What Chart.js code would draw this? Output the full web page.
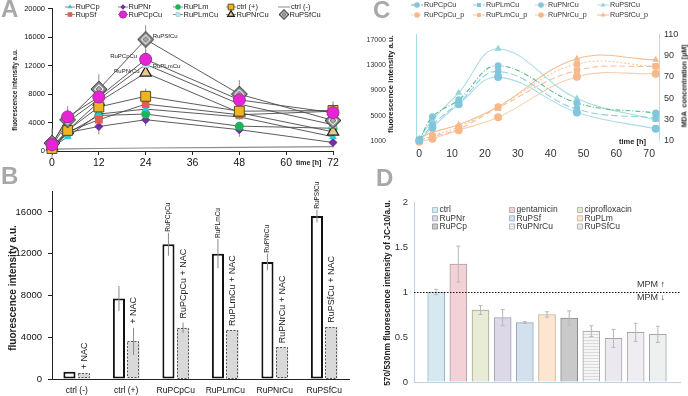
<!DOCTYPE html>
<html>
<head>
<meta charset="utf-8">
<title>Fluorescence, MDA and JC-10 panels</title>
<script src="https://cdn.jsdelivr.net/npm/chart.js@4.4.1/dist/chart.umd.min.js"></script>
<style>
  body { margin: 0; background: #fff; }
  #fig { position: relative; width: 688px; height: 396px; overflow: hidden;
         font-family: "Liberation Sans", Arial, sans-serif; color: #222; }
  #fig canvas { position: absolute; }
  .letter { position: absolute; font-size: 24px; font-weight: bold; color: #a8a8a8; line-height: 1; }
  .note { position: absolute; white-space: nowrap; line-height: 1; transform: translateY(-50%); }
  .vtitle { position: absolute; white-space: nowrap; font-weight: bold; line-height: 1;
            transform: translate(-50%, -50%) rotate(-90deg); }
</style>
</head>
<body>
<div id="fig">
  <canvas id="chartD" width="344" height="206" style="left:344px; top:190px"></canvas>
  <canvas id="chartC" width="344" height="175" style="left:344px; top:0"></canvas>
  <canvas id="chartB" width="362" height="221" style="left:0; top:175px"></canvas>
  <canvas id="chartA" width="344" height="175" style="left:0; top:0"></canvas>

  <div class="letter" style="left:1px; top:-3px">A</div>
  <div class="letter" style="left:1px; top:164px">B</div>
  <div class="letter" style="left:373px; top:-2px">C</div>
  <div class="letter" style="left:376px; top:166px">D</div>

  <div class="vtitle" style="left:15px; top:90px; font-size:6.5px">fluorescence intensity a.u.</div>
  <div class="vtitle" style="left:13px; top:288px; font-size:10px">fluorescence intensity a.u.</div>
  <div class="vtitle" style="left:391px; top:84px; font-size:7.8px">fluorescence intensity a.u.</div>
  <div class="vtitle" style="left:684px; top:86px; font-size:7px">MDA&nbsp; concentration [µM]</div>
  <div class="vtitle" style="left:387px; top:293px; font-size:8.4px">570/530nm fluorescence intensity of JC-10/a.u.</div>

  <div class="note" style="left:296px; top:162px; font-size:7px; font-weight:bold">time [h]</div>
  <div class="note" style="left:619px; top:142px; font-size:7.5px; font-weight:bold">time [h]</div>
  <div class="note" style="left:637px; top:284px; font-size:9px; color:#333">MPM ↑</div>
  <div class="note" style="left:637px; top:297px; font-size:9px; color:#333">MPM ↓</div>
</div>
<script>
// ---------- panel A: fluorescence intensity vs time ----------
const timeA = [0, 4, 12, 24, 48, 72];
const ticksAx = [0, 12, 24, 36, 48, 60, 72];
const ticksAy = [0, 4000, 8000, 12000, 16000, 20000];

const aRuPCp   = [500, 2000, 5200, 5900, 4800, 2000];
const aRuPNr   = [300, 2600, 3450, 4400, 3000, 1200];
const aRuPLm   = [400, 2500, 5000, 5200, 3500, 3200];
const aCtrlPos = [350, 2900, 6200, 7700, 5600, 5700];
const aCtrlNeg = [250, 290, 350, 420, 520, 620];
const aRupSf   = [400, 2700, 4400, 6600, 5100, 5600];
const aRuPCpCu = [900, 4800, 7600, 12900, 7200, 5400];
const aRuPLmCu = [700, 4100, 7300, 12200, 6600, 3700];
const aRuPNrCu = [600, 2900, 6900, 11000, 5400, 2700];
const aRuPSfCu = [1100, 4400, 8700, 15700, 8000, 4300];

const aErrRuPNr   = [300, 600, 1100, 900, 1000, 700];
const aErrCtrlPos = [200, 800, 900, 1100, 800, 900];
const aErrRupSf   = [200, 600, 800, 900, 700, 1400];
const aErrRuPCpCu = [600, 1500, 1200, 1300, 1000, 800];
const aErrRuPSfCu = [2100, 1500, 2100, 2000, 2000, 800];

// ---------- panel B: 24 h values with / without NAC ----------
const catsB = ['ctrl (-)', 'ctrl (+)', 'RuPCpCu', 'RuPLmCu', 'RuPNrCu', 'RuPSfCu'];
const ticksBy = [0, 4000, 8000, 12000, 16000];
const bPlain    = [700, 7700, 12900, 12000, 11200, 15600];
const bPlainErr = [0, 1200, 1100, 1400, 800, 600];
const bNAC      = [550, 3600, 4900, 4700, 3050, 5000];
const bNACErr   = [0, 1300, 500, 0, 0, 0];
const bPlainText = ['', '', 'RuPCpCu', 'RuPLmCu', 'RuPNrCu', 'RuPSfCu'];
const bNACText   = ['+ NAC', '+ NAC', 'RuPCpCu + NAC', 'RuPLmCu + NAC', 'RuPNrCu + NAC', 'RuPSfCu + NAC'];

// ---------- panel C: fluorescence (left) and MDA (right) ----------
const timeC = [0, 4, 12, 24, 48, 72];
const ticksCx = [0, 10, 20, 30, 40, 50, 60, 70];
const ticksCy = [1000, 5000, 9000, 13000, 17000];
const ticksCy1 = [10, 30, 50, 70, 90, 110];
const cRuPCpCu = [1000, 4800, 7500, 12900, 7000, 5400];
const cRuPLmCu = [1000, 3500, 7000, 12000, 6000, 4600];
const cRuPNrCu = [1100, 3100, 6800, 11100, 5500, 2900];
const cRuPSfCu = [1300, 4300, 8600, 15600, 7700, 4300];
const cRuPCpCuP = [10, 15, 23, 42, 82, 80];
const cRuPLmCuP = [11, 14, 21, 41, 76, 80];
const cRuPNrCuP = [9, 12, 20, 32, 70, 73];
const cRuPSfCuP = [12, 18, 25, 42, 87, 86];

// ---------- panel D: JC-10 ratio ----------
const dValues = [1.0, 1.31, 0.80, 0.715, 0.66, 0.75, 0.71, 0.565, 0.485, 0.552, 0.53];
const dErr    = [0.03, 0.2, 0.05, 0.09, 0.01, 0.03, 0.08, 0.06, 0.1, 0.1, 0.09];
const dLegendNames = ['ctrl', 'gentamicin', 'ciprofloxacin', 'RuPNr', 'RuPSf', 'RuPLm', 'RuPCp', 'RuPNrCu', 'RuPSfCu'];
const ticksDy = [0, 0.5, 1, 1.5, 2];
const dRefLevel = 1;

// ---------- shared setup ----------
Chart.defaults.font.family = '"Liberation Sans", Arial, sans-serif';
Chart.defaults.color = '#222';
Chart.defaults.animation = false;
Chart.defaults.responsive = false;
Chart.defaults.events = [];
Chart.defaults.plugins.legend.display = false;
Chart.defaults.plugins.tooltip.enabled = false;

const fixWidth = w => scale => { scale.width = w; };
const fixHeight = h => scale => { scale.height = h; };
const useTicks = values => scale => { scale.ticks = values.map(v => ({ value: v })); };
const plain = v => String(v);

function diamondMarker(h) {
  const s = 2 * h + 2, c = document.createElement('canvas');
  c.width = s; c.height = s;
  const g = c.getContext('2d'), m = s / 2;
  const dia = (r, fill, stroke) => {
    g.beginPath();
    g.moveTo(m, m - r); g.lineTo(m + r, m); g.lineTo(m, m + r); g.lineTo(m - r, m);
    g.closePath();
    g.fillStyle = fill; g.fill();
    if (stroke) { g.strokeStyle = stroke; g.lineWidth = 1; g.stroke(); }
  };
  dia(h, '#858585', '#333');
  dia(h * 0.62, '#ffffff', null);
  dia(h * 0.38, '#a9a9a9', '#666');
  return c;
}

function stripes(bg, line) {
  const c = document.createElement('canvas');
  c.width = 4; c.height = 3;
  const g = c.getContext('2d');
  g.fillStyle = bg; g.fillRect(0, 0, 4, 3);
  g.fillStyle = line; g.fillRect(0, 0, 4, 1);
  return g.createPattern(c, 'repeat');
}

// error bars read from dataset.errors, drawn through the dataset's own y scale
function drawErrors(chart, opts) {
  const ctx = chart.ctx;
  ctx.save();
  ctx.strokeStyle = opts.color || '#8a8a8a';
  ctx.lineWidth = 1;
  chart.data.datasets.forEach((ds, di) => {
    if (!ds.errors) return;
    const meta = chart.getDatasetMeta(di);
    const ys = chart.scales[meta.yAxisID];
    meta.data.forEach((el, i) => {
      const e = ds.errors[i];
      if (!e) return;
      const v = meta.controller.getParsed(i).y;
      const lo = ys.getPixelForValue(v - e), hi = ys.getPixelForValue(v + e);
      const cap = opts.cap || 0;
      ctx.beginPath();
      ctx.moveTo(el.x, lo); ctx.lineTo(el.x, hi);
      if (cap) {
        ctx.moveTo(el.x - cap, lo); ctx.lineTo(el.x + cap, lo);
        ctx.moveTo(el.x - cap, hi); ctx.lineTo(el.x + cap, hi);
      }
      ctx.stroke();
    });
  });
  ctx.restore();
}
Chart.register({
  id: 'errorBars',
  beforeDatasetsDraw(chart, args, opts) { if (!opts.front) drawErrors(chart, opts); },
  afterDatasetsDraw(chart, args, opts) { if (opts.front) drawErrors(chart, opts); }
});

// legend laid out as a grid (Excel style), markers drawn with Chart.js' point helper
function gridLegend(items, cols, rows, font, color) {
  return {
    id: 'gridLegend',
    afterDraw(chart) {
      const ctx = chart.ctx;
      ctx.save();
      ctx.font = font;
      ctx.textBaseline = 'middle';
      ctx.textAlign = 'left';
      items.forEach((it, k) => {
        const x = cols[k % cols.length], y = rows[Math.floor(k / cols.length)];
        if (it.line) {
          ctx.strokeStyle = it.line; ctx.lineWidth = 1;
          ctx.setLineDash(it.dash || []);
          ctx.beginPath(); ctx.moveTo(x - it.half, y); ctx.lineTo(x + it.half, y); ctx.stroke();
          ctx.setLineDash([]);
        }
        if (it.style) {
          ctx.fillStyle = it.fill;
          ctx.strokeStyle = it.stroke || it.fill;
          ctx.lineWidth = it.bw || 0;
          Chart.helpers.drawPoint(ctx, { pointStyle: it.style, radius: it.r, borderWidth: it.bw || 0, rotation: 0 }, x, y);
        }
        ctx.fillStyle = color;
        ctx.fillText(it.text, x + it.gap, y);
      });
      ctx.restore();
    }
  };
}

// ---------- chart A ----------
const looksA = {
  'RuPCp':    { pointStyle: 'triangle', pointRadius: 4.5, pointBackgroundColor: '#2ec4dc', pointBorderColor: '#2ec4dc', pointBorderWidth: 0 },
  'RuPNr':    { pointStyle: 'rectRot', pointRadius: 4.5, pointBackgroundColor: '#7030a0', pointBorderColor: '#7030a0', pointBorderWidth: 0 },
  'RuPLm':    { pointStyle: 'circle', pointRadius: 4.5, pointBackgroundColor: '#1db35b', pointBorderColor: '#1db35b', pointBorderWidth: 0 },
  'ctrl (+)': { pointStyle: 'rect', pointRadius: 7, pointBackgroundColor: '#f2b322', pointBorderColor: '#5e4d22', pointBorderWidth: 1 },
  'ctrl (-)': { pointRadius: 0, borderColor: '#8c8c8c', borderWidth: 1.2 },
  'RupSf':    { pointStyle: 'rect', pointRadius: 5.5, pointBackgroundColor: '#e0604f', pointBorderColor: '#e0604f', pointBorderWidth: 0 },
  'RuPCpCu':  { pointStyle: 'circle', pointRadius: 6, pointBackgroundColor: '#e823d6', pointBorderColor: '#9c2c9c', pointBorderWidth: 1 },
  'RuPLmCu':  { pointStyle: 'rect', pointRadius: 4.5, pointBackgroundColor: '#c4e4ec', pointBorderColor: '#9fcbd8', pointBorderWidth: 0.8 },
  'RuPNrCu':  { pointStyle: 'triangle', pointRadius: 6.5, pointBackgroundColor: '#e9c98a', pointBorderColor: '#1e1e1e', pointBorderWidth: 1.2 },
  'RuPSfCu':  { pointStyle: diamondMarker(8), pointRadius: 8 }
};

function lineA(label, values, errors) {
  return Object.assign({
    label: label,
    data: timeA.map((t, i) => ({ x: t, y: values[i] })),
    errors: errors,
    borderColor: '#4a4a4a',
    borderWidth: 0.9,
    clip: false
  }, looksA[label]);
}

// first dataset is painted last (on top)
const datasetsA = [
  lineA('RuPCpCu', aRuPCpCu, aErrRuPCpCu),
  lineA('RuPSfCu', aRuPSfCu, aErrRuPSfCu),
  lineA('ctrl (+)', aCtrlPos, aErrCtrlPos),
  lineA('RuPLmCu', aRuPLmCu, null),
  lineA('RuPNrCu', aRuPNrCu, null),
  lineA('RupSf', aRupSf, aErrRupSf),
  lineA('RuPCp', aRuPCp, null),
  lineA('RuPLm', aRuPLm, null),
  lineA('RuPNr', aRuPNr, aErrRuPNr),
  lineA('ctrl (-)', aCtrlNeg, null)
];

const legendOrderA = ['RuPCp', 'RuPNr', 'RuPLm', 'ctrl (+)', 'ctrl (-)', 'RupSf', 'RuPCpCu', 'RuPLmCu', 'RuPNrCu', 'RuPSfCu'];
const legendA = legendOrderA.map(name => {
  const lk = looksA[name];
  if (!lk.pointRadius) return { text: name, line: lk.borderColor, half: 6, gap: 7 };
  const img = typeof lk.pointStyle !== 'string';
  return {
    text: name, line: '#8a8a8a', half: 5, gap: 5.5,
    style: img ? diamondMarker(5) : lk.pointStyle,
    fill: lk.pointBackgroundColor, stroke: lk.pointBorderColor, bw: lk.pointBorderWidth,
    r: Math.min(lk.pointRadius * 0.6, 4)
  };
});

// series names written next to the 24 h points
const notesA = [
  { series: 'RuPSfCu', index: 3, dx: 7, dy: -3, align: 'left' },
  { series: 'RuPCpCu', index: 3, dx: -8.5, dy: -3, align: 'right' },
  { series: 'RuPLmCu', index: 3, dx: 7, dy: 2, align: 'left' },
  { series: 'RuPNrCu', index: 3, dx: -6, dy: -2, align: 'right' }
];
const pointNotes = {
  id: 'pointNotes',
  beforeDatasetsDraw(chart) {
    const ctx = chart.ctx;
    ctx.save();
    ctx.font = '6px "Liberation Sans", Arial, sans-serif';
    ctx.fillStyle = '#222';
    ctx.textBaseline = 'middle';
    notesA.forEach(n => {
      const di = chart.data.datasets.findIndex(d => d.label === n.series);
      const el = chart.getDatasetMeta(di).data[n.index];
      ctx.textAlign = n.align;
      ctx.fillText(n.series, el.x + n.dx, el.y + n.dy);
    });
    ctx.restore();
  }
};

new Chart(document.getElementById('chartA'), {
  type: 'line',
  data: { datasets: datasetsA },
  options: {
    devicePixelRatio: 1,
    layout: { padding: { top: 7, right: 11, left: 0, bottom: 0 } },
    plugins: { errorBars: { front: false, color: '#8f8f8f' } },
    scales: {
      x: {
        type: 'linear', min: 0, max: 72,
        afterBuildTicks: useTicks(ticksAx), afterFit: fixHeight(24),
        grid: { drawOnChartArea: false, tickLength: 4, color: '#222' },
        border: { color: '#222' },
        ticks: { font: { size: 10.5 }, color: '#111', padding: 2, callback: plain, maxRotation: 0 }
      },
      y: {
        min: 0, max: 20000,
        afterBuildTicks: useTicks(ticksAy), afterFit: fixWidth(52),
        grid: { drawOnChartArea: false, tickLength: 4, color: '#222' },
        border: { color: '#222' },
        ticks: { font: { size: 7.5 }, color: '#111', padding: 3, callback: plain }
      }
    }
  },
  plugins: [pointNotes, gridLegend(legendA, [70, 123, 178, 231, 284], [7, 14.5], '7.5px "Liberation Sans", Arial, sans-serif', '#222')]
});

// ---------- chart B ----------
const dashedBars = {
  id: 'dashedBars',
  afterDatasetsDraw(chart) {
    const ctx = chart.ctx;
    chart.data.datasets.forEach((ds, di) => {
      if (!ds.dashedBorder) return;
      ctx.save();
      ctx.strokeStyle = ds.dashedBorder;
      ctx.lineWidth = 1;
      ctx.setLineDash([2, 1.5]);
      chart.getDatasetMeta(di).data.forEach(el => {
        const p = el.getProps(['x', 'y', 'base', 'width'], true);
        ctx.strokeRect(Math.round(p.x - p.width / 2) + 0.5, Math.round(p.y) + 0.5,
                       Math.round(p.width) - 1, Math.round(p.base - p.y) - 1);
      });
      ctx.restore();
    });
  }
};
const barTexts = {
  id: 'barTexts',
  afterDatasetsDraw(chart) {
    const ctx = chart.ctx, ys = chart.scales.y;
    chart.data.datasets.forEach((ds, di) => {
      if (!ds.texts) return;
      const meta = chart.getDatasetMeta(di);
      ctx.save();
      ctx.font = ds.textFont;
      ctx.fillStyle = '#222';
      ctx.textAlign = 'left';
      ctx.textBaseline = 'middle';
      meta.data.forEach((el, i) => {
        const t = ds.texts[i];
        if (!t) return;
        const top = meta.controller.getParsed(i).y + (ds.errors ? ds.errors[i] : 0);
        ctx.save();
        ctx.translate(el.x, ys.getPixelForValue(top) - ds.textGap);
        ctx.rotate(-Math.PI / 2);
        ctx.fillText(t, 0, 0);
        ctx.restore();
      });
      ctx.restore();
    });
  }
};

new Chart(document.getElementById('chartB'), {
  type: 'bar',
  data: {
    labels: catsB,
    datasets: [
      { label: 'without NAC', data: bPlain, errors: bPlainErr, texts: bPlainText, textGap: 1,
        textFont: '6.5px "Liberation Sans", Arial, sans-serif',
        backgroundColor: '#ffffff', borderColor: '#111', borderWidth: 2, borderSkipped: false },
      { label: '+ NAC', data: bNAC, errors: bNACErr, texts: bNACText, textGap: 4,
        textFont: '9px "Liberation Sans", Arial, sans-serif',
        backgroundColor: '#d9d9d9', borderWidth: 0, dashedBorder: '#555' }
    ]
  },
  options: {
    devicePixelRatio: 1,
    layout: { padding: { top: 16, right: 13, left: 0, bottom: 0 } },
    datasets: { bar: { categoryPercentage: 0.59, barPercentage: 0.83 } },
    plugins: { errorBars: { front: true, color: '#8a8a8a' } },
    scales: {
      x: {
        afterFit: fixHeight(17),
        grid: { drawOnChartArea: false, drawTicks: false },
        border: { color: '#222' },
        ticks: { font: { size: 8.5 }, color: '#111', padding: 7, maxRotation: 0, autoSkip: false }
      },
      y: {
        min: 0, max: 18000,
        afterBuildTicks: useTicks(ticksBy), afterFit: fixWidth(52),
        grid: { drawOnChartArea: false, tickLength: 4, color: '#222' },
        border: { color: '#222' },
        ticks: { font: { size: 9.5 }, color: '#111', padding: 6, callback: plain }
      }
    }
  },
  plugins: [dashedBars, barTexts]
});

// ---------- chart C ----------
const blue = '#80c6dc', orange = '#f6b98c';
const seriesC = [
  { label: 'RuPCpCu',   values: cRuPCpCu,  axis: 'y',  line: '#5ab98b', dash: [5, 2, 1, 2], style: 'circle',   r: 3.5, fill: blue },
  { label: 'RuPLmCu',   values: cRuPLmCu,  axis: 'y',  line: '#8fcfe0', dash: [7, 3],       style: 'rect',     r: 4.5, fill: blue },
  { label: 'RuPNrCu',   values: cRuPNrCu,  axis: 'y',  line: '#acdbe8', dash: [],           style: 'circle',   r: 4,   fill: blue },
  { label: 'RuPSfCu',   values: cRuPSfCu,  axis: 'y',  line: '#a6dfe0', dash: [],           style: 'triangle', r: 4,   fill: '#94d5d9' },
  { label: 'RuPCpCu_p', values: cRuPCpCuP, axis: 'y1', line: '#f7caa4', dash: [2, 2],       style: 'circle',   r: 3.5, fill: orange },
  { label: 'RuPLmCu_p', values: cRuPLmCuP, axis: 'y1', line: '#f6c29c', dash: [6, 3],       style: 'rect',     r: 4.5, fill: orange },
  { label: 'RuPNrCu_p', values: cRuPNrCuP, axis: 'y1', line: '#f8cfad', dash: [],           style: 'circle',   r: 4,   fill: orange },
  { label: 'RuPSfCu_p', values: cRuPSfCuP, axis: 'y1', line: '#f5bd94', dash: [],           style: 'triangle', r: 4,   fill: '#f5b88c' }
];
const datasetsC = seriesC.map(s => ({
  label: s.label,
  yAxisID: s.axis,
  data: timeC.map((t, i) => ({ x: t, y: s.values[i] })),
  borderColor: s.line, borderDash: s.dash, borderWidth: 1.1, tension: 0.4,
  pointStyle: s.style, pointRadius: s.r, pointBackgroundColor: s.fill, pointBorderWidth: 0,
  clip: false
}));
const legendC = seriesC.map(s => ({
  text: s.label, line: s.line, dash: s.dash, half: 6, gap: 7,
  style: s.style, fill: s.fill, r: 2.8
}));

new Chart(document.getElementById('chartC'), {
  type: 'line',
  data: { datasets: datasetsC },
  options: {
    devicePixelRatio: 1,
    layout: { padding: { top: 22, right: 0, left: 0, bottom: 0 } },
    scales: {
      x: {
        type: 'linear', min: -1, max: 73,
        afterBuildTicks: useTicks(ticksCx), afterFit: fixHeight(24),
        grid: { drawOnChartArea: false, drawTicks: false },
        border: { display: false },
        ticks: { font: { size: 10.5 }, color: '#333', padding: 7, callback: plain, maxRotation: 0 }
      },
      y: {
        position: 'left', min: 1000, max: 17900,
        afterBuildTicks: useTicks(ticksCy), afterFit: fixWidth(72),
        grid: { drawOnChartArea: false, drawTicks: false },
        border: { color: '#a6dbe6' },
        ticks: { font: { size: 7 }, color: '#333', padding: 30, callback: plain }
      },
      y1: {
        position: 'right', min: 10, max: 110,
        afterBuildTicks: useTicks(ticksCy1), afterFit: fixWidth(29),
        grid: { drawOnChartArea: false, drawTicks: false },
        border: { color: '#f6c9a6' },
        ticks: { font: { size: 9 }, color: '#333', padding: 5, callback: plain }
      }
    }
  },
  plugins: [gridLegend(legendC, [73, 135, 197, 259], [5, 15], '7.2px "Liberation Sans", Arial, sans-serif', '#333')]
});

// ---------- chart D ----------
const dFills = ['#d6e9f0', '#f3d2d7', '#e8ecd5', '#dcd8e7', '#d3e1ee', '#fde5d0', '#c9c9c9',
                stripes('#f5f5f5', '#dadada'), '#ebe8f0', '#efedf1', '#ecf0ee'];
const dEdges = ['#93b7c6', '#b39ea2', '#a3a88f', '#a39eae', '#98abbd', '#c9ae94', '#8c8c8c',
                '#a4a4a4', '#a6a3ac', '#a9a6ab', '#a3a9a6'];
const legendD = dLegendNames.map((name, k) => ({
  text: name, gap: 4.5, style: 'rect', r: 3.6, fill: dFills[k], stroke: dEdges[k], bw: 0.8
}));
const refLine = {
  id: 'refLine',
  afterDatasetsDraw(chart) {
    const ctx = chart.ctx, a = chart.chartArea;
    const y = Math.round(chart.scales.y.getPixelForValue(dRefLevel)) + 0.5;
    ctx.save();
    ctx.strokeStyle = '#111';
    ctx.lineWidth = 1.2;
    ctx.setLineDash([1.5, 1.5]);
    ctx.beginPath(); ctx.moveTo(a.left, y); ctx.lineTo(a.right, y); ctx.stroke();
    ctx.restore();
  }
};

new Chart(document.getElementById('chartD'), {
  type: 'bar',
  data: {
    datasets: [{
      data: dValues.map((v, i) => ({ x: i, y: v })),
      errors: dErr,
      backgroundColor: dFills, borderColor: dEdges, borderWidth: 1,
      barThickness: 17
    }]
  },
  options: {
    devicePixelRatio: 1,
    layout: { padding: { top: 12, right: 8, left: 0, bottom: 0 } },
    plugins: { errorBars: { front: true, color: '#b8b8b8', cap: 2 } },
    scales: {
      x: {
        type: 'linear', min: -1, max: 11, offset: false,
        afterFit: fixHeight(14),
        grid: { drawOnChartArea: false, drawTicks: false },
        border: { color: '#bcd3e2' },
        ticks: { display: false }
      },
      y: {
        min: 0, max: 2,
        afterBuildTicks: useTicks(ticksDy), afterFit: fixWidth(70),
        grid: { drawOnChartArea: false, drawTicks: false },
        border: { color: '#bcd3e2' },
        ticks: { font: { size: 9.5 }, color: '#333', padding: 6, callback: plain }
      }
    }
  },
  plugins: [refLine, gridLegend(legendD, [91, 168, 236], [20, 28.3, 36.5], '8.5px "Liberation Sans", Arial, sans-serif', '#333')]
});
</script>
</body>
</html>
